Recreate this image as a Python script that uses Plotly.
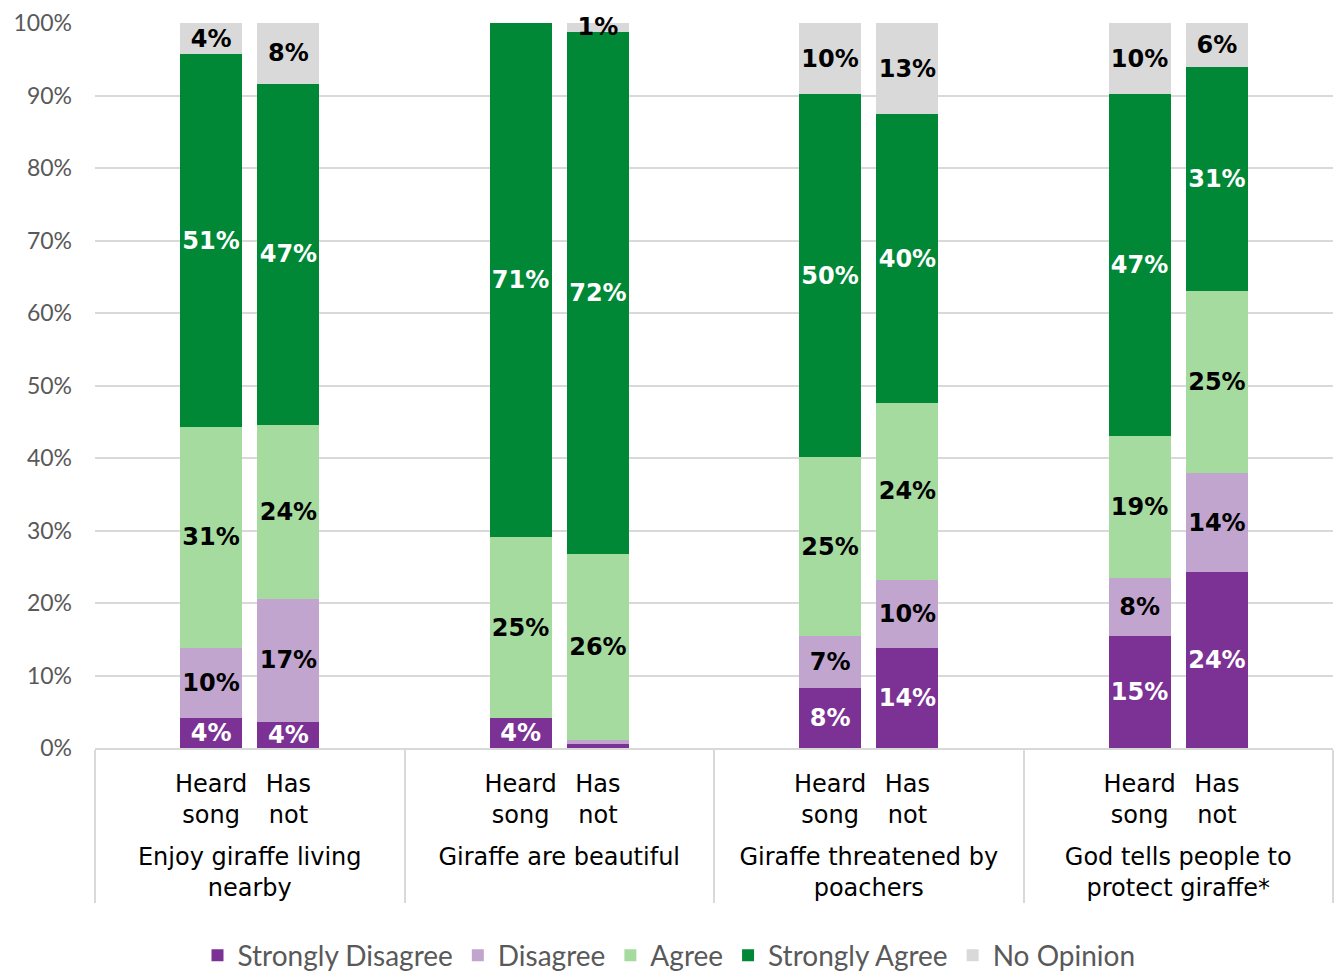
import plotly.graph_objects as go

groups = ["Enjoy giraffe living<br>nearby", "Giraffe are beautiful",
          "Giraffe threatened by<br>poachers", "God tells people to<br>protect giraffe*"]
subs = ["Heard<br>song", "Has<br>not"]

series_names = ["Strongly Disagree", "Disagree", "Agree", "Strongly Agree", "No Opinion"]
colors = ["#7B3294", "#C2A5CF", "#A6DBA0", "#008837", "#D9D9D9"]
text_colors = ["white", "black", "black", "white", "black"]

# values per bar: order = G1 Heard, G1 Has not, G2 Heard, G2 Has not, ...
strongly_disagree = [4.1, 3.6, 4.1, 0.6, 8.3, 13.8, 15.4, 24.3]
disagree = [9.7, 17.0, 0.0, 0.5, 7.1, 9.4, 8.0, 13.6]
agree = [30.5, 24.0, 25.0, 25.7, 24.7, 24.4, 19.6, 25.1]
strongly_agree = [51.4, 47.0, 70.9, 72.0, 50.1, 39.8, 47.2, 30.9]
no_opinion = [4.3, 8.4, 0.0, 1.2, 9.8, 12.6, 9.8, 6.1]

# labels shown on segments ("" = no label)
lab_sd = ["4%", "4%", "4%", "", "8%", "14%", "15%", "24%"]
lab_d = ["10%", "17%", "", "", "7%", "10%", "8%", "14%"]
lab_a = ["31%", "24%", "25%", "26%", "25%", "24%", "19%", "25%"]
lab_sa = ["51%", "47%", "71%", "72%", "50%", "40%", "47%", "31%"]
lab_no = ["4%", "8%", "", "1%", "10%", "13%", "10%", "6%"]

all_vals = [strongly_disagree, disagree, agree, strongly_agree, no_opinion]
all_labs = [lab_sd, lab_d, lab_a, lab_sa, lab_no]

# spacer line appended to sub labels to widen the gap before the group labels
spacer = "<br><span style='font-size:1px;color:white'>.</span>"

# multicategory x with padding slots so bars sit close together within each group
pad_l, pad_r = " ", "  "
x_lvl0, x_lvl1 = [], []
for g in groups:
    for s in [pad_l] + [s + spacer for s in subs] + [pad_r]:
        x_lvl0.append(g)
        x_lvl1.append(s)

fig = go.Figure()
for name, col, tcol, vals, labs in zip(series_names, colors, text_colors, all_vals, all_labs):
    ys, ts = [], []
    k = 0
    for g in groups:
        ys.append(None); ts.append("")
        for s in subs:
            ys.append(vals[k]); ts.append(labs[k]); k += 1
        ys.append(None); ts.append("")
    fig.add_trace(go.Bar(
        name=name, x=[x_lvl0, x_lvl1], y=ys, text=ts,
        marker=dict(color=col, line=dict(width=0)),
        textposition="inside", insidetextanchor="middle",
        textangle=0, cliponaxis=False,
        textfont=dict(color=tcol, size=24, family="DejaVu Sans", weight="bold"),
        hoverinfo="skip",
    ))

fig.update_layout(
    barmode="stack", bargap=0.2,
    width=1338, height=976,
    margin=dict(l=95, r=5, t=23, b=228),
    paper_bgcolor="white", plot_bgcolor="white",
    font=dict(family="Lato, sans-serif", color="#000000", size=24),
    uniformtext=dict(minsize=24, mode="show"),
    legend=dict(orientation="h", x=0.5, xanchor="center", xref="container",
                y=0.021, yanchor="middle", yref="container",
                font=dict(size=28, color="#595959"), traceorder="normal",
                itemwidth=30),
    showlegend=True,
)
fig.update_yaxes(range=[0, 100], tickvals=[0, 10, 20, 30, 40, 50, 60, 70, 80, 90, 100],
                 ticktext=[f"{v}%" for v in range(0, 101, 10)],
                 showgrid=True, gridcolor="#D9D9D9", gridwidth=2,
                 tickfont=dict(size=23, color="#595959"), zeroline=False,
                 ticks="", ticklabelstandoff=22, automargin=False)
fig.update_xaxes(type="multicategory", showline=True, linecolor="#D9D9D9", linewidth=2,
                 showdividers=True, dividercolor="#D9D9D9", dividerwidth=2,
                 tickfont=dict(size=24, color="#000000", family="DejaVu Sans"), ticks="",
                 tickangle=0, ticklabelstandoff=13, automargin=False)

fig.write_html("out.html", config={"displayModeBar": False},
               post_script="document.body.style.margin='0';")
